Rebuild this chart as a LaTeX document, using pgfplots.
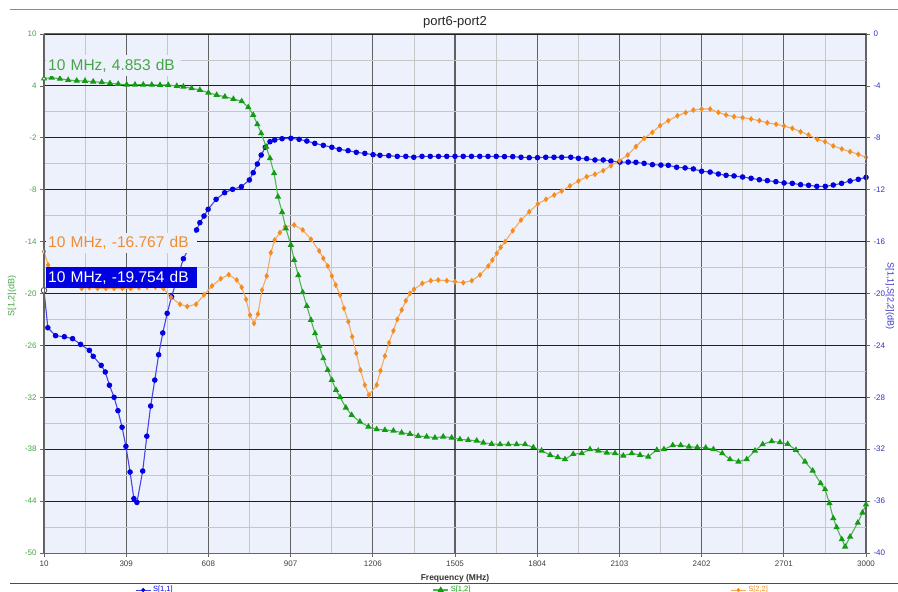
\documentclass[border=0pt]{standalone}
\usepackage{fontspec}
\setmainfont{Liberation Sans}
\usepackage{pgfplots}
\pgfplotsset{compat=1.18}
\definecolor{bgc}{RGB}{237,241,252}
\definecolor{cblue}{RGB}{0,0,225}
\definecolor{cbluel}{RGB}{70,70,230}
\definecolor{cgreen}{RGB}{20,155,20}
\definecolor{cgreenl}{RGB}{80,180,80}
\definecolor{corange}{RGB}{245,140,30}
\definecolor{corangel}{RGB}{245,170,100}
\definecolor{tgreen}{RGB}{70,165,70}
\definecolor{tblue}{RGB}{50,50,200}
\definecolor{torange}{RGB}{240,140,50}
\begin{document}
\begin{tikzpicture}[x=1bp,y=1bp]
\useasboundingbox (0,0) rectangle (898,-592);
\fill[white] (0,0) rectangle (898,-592);
\draw[black!45, line width=1bp] (10,-10) -- (898,-10);
\draw[black!70, line width=1bp] (10,-583) -- (898,-583);
\pgfplotsset{
  base/.style={at={(44bp,-553bp)}, anchor=south west, width=822bp, height=519bp,
    scale only axis, xmin=10, xmax=3000, ymin=-50, ymax=10,
    every tick label/.append style={font=\fontsize{8bp}{9bp}\selectfont}},
  xt/.style={xtick={10,309,608,907,1206,1505,1804,2103,2402,2701,3000}},
  lt/.style={ytick={-50,-44,-38,-32,-26,-20,-14,-8,-2,4,10}},
}
% vertical grid + background
\begin{axis}[base, xt, axis background/.style={fill=bgc},
  minor x tick num=1, ytick=\empty, xticklabels={},
  xmajorgrids, xminorgrids,
  major grid style={draw=black!62, line width=1.3bp},
  minor grid style={draw=black!22, line width=0.8bp},
  axis line style={draw=none}, tick style={draw=none}]
\addplot[draw=none] coordinates {(10,0)};
\end{axis}
% horizontal grid
\begin{axis}[base, lt, minor y tick num=1, xtick=\empty, yticklabels={},
  ymajorgrids, yminorgrids,
  major grid style={draw=black!88, line width=0.9bp},
  minor grid style={draw=black!22, line width=0.8bp},
  axis line style={draw=none}, tick style={draw=none}]
\addplot[draw=none] coordinates {(10,0)};
\end{axis}
% right axis: S11, S22
\begin{axis}[base, ymin=-40, ymax=0,
  axis x line=none, axis y line*=right,
  ytick={-40,-36,-32,-28,-24,-20,-16,-12,-8,-4,0},
  yticklabels={-40,-36,-32,-28,-24,-20,-16,-12,-8,-4,0},
  tick align=outside, major tick length=4bp,
  tick style={draw=black!60, line width=0.8bp},
  axis line style={draw=black!60, line width=1bp},
  yticklabel style={text=tblue}]
\addplot[cbluel, line width=1.1bp, mark=*, mark size=2.2bp, mark options={fill=cblue,draw=cblue}] coordinates {
(10,-19.754)(24,-22.64)(52,-23.25)(84,-23.33)(114,-23.48)(143,-23.92)(175,-24.38)(189,-24.84)(218,-25.54)(233,-26.05)(248,-27.07)(265,-28.0)(279,-29.03)(294,-30.31)(308,-31.78)(323,-33.76)(337,-35.81)(348,-36.1)(369,-33.68)(384,-31.0)(398,-28.67)(413,-26.67)(427,-24.72)(442,-23.04)(458,-21.53)(474,-20.25)(495,-18.8)(517,-17.32)(533,-16.65)(565,-15.1)(577,-14.54)(592,-14.03)(607,-13.51)(636,-12.74)(667,-12.23)(696,-11.97)(728,-11.77)(757,-11.25)(771,-10.69)(786,-10.02)(800,-9.33)(815,-8.73)(832,-8.3)(849,-8.17)(876,-8.07)(908,-8.04)(938,-8.12)(966,-8.25)(995,-8.43)(1026,-8.58)(1057,-8.73)(1084,-8.89)(1116,-8.99)(1146,-9.12)(1177,-9.2)(1207,-9.3)(1232,-9.35)(1264,-9.38)(1295,-9.43)(1326,-9.43)(1355,-9.5)(1385,-9.43)(1415,-9.43)(1445,-9.43)(1475,-9.43)(1505,-9.43)(1535,-9.43)(1565,-9.43)(1595,-9.43)(1625,-9.43)(1655,-9.43)(1685,-9.45)(1715,-9.45)(1745,-9.5)(1775,-9.53)(1805,-9.53)(1835,-9.5)(1865,-9.5)(1893,-9.5)(1926,-9.5)(1954,-9.58)(1984,-9.61)(2014,-9.71)(2044,-9.71)(2072,-9.79)(2105,-9.87)(2135,-9.87)(2163,-9.89)(2193,-9.97)(2223,-10.07)(2254,-10.1)(2281,-10.12)(2311,-10.27)(2342,-10.32)(2372,-10.4)(2402,-10.58)(2433,-10.64)(2463,-10.79)(2491,-10.89)(2520,-10.94)(2551,-11.02)(2582,-11.12)(2612,-11.23)(2641,-11.3)(2672,-11.38)(2702,-11.48)(2732,-11.51)(2762,-11.61)(2791,-11.66)(2821,-11.74)(2852,-11.74)(2881,-11.64)(2911,-11.51)(2942,-11.33)(2972,-11.2)(3000,-11.05)};
\addplot[corangel, line width=1.1bp, mark=diamond*, mark size=2.1bp, mark options={fill=corange,draw=corange}] coordinates {
(10,-16.767)(25,-17.8)(40,-18.5)(60,-19.0)(117,-19.35)(147,-19.6)(175,-19.55)(205,-19.6)(235,-19.6)(265,-19.6)(295,-19.6)(325,-19.6)(355,-19.55)(385,-19.5)(415,-19.5)(444,-19.6)(472,-20.3)(505,-20.83)(531,-21.0)(563,-20.83)(592,-20.1)(621,-19.42)(653,-18.86)(682,-18.55)(711,-18.96)(729,-19.52)(745,-20.45)(759,-21.66)(774,-22.3)(788,-21.58)(803,-19.73)(820,-18.65)(835,-16.86)(849,-15.88)(868,-15.31)(887,-14.85)(920,-14.72)(951,-15.1)(981,-15.82)(1011,-16.72)(1026,-17.29)(1042,-17.88)(1057,-18.65)(1071,-19.34)(1087,-20.12)(1101,-21.14)(1117,-22.17)(1131,-23.33)(1146,-24.61)(1161,-25.9)(1177,-27.05)(1192,-27.82)(1220,-27.05)(1234,-25.95)(1250,-24.82)(1265,-23.79)(1281,-22.87)(1295,-21.99)(1311,-21.27)(1326,-20.55)(1341,-19.99)(1356,-19.68)(1386,-19.22)(1417,-19.01)(1444,-18.96)(1475,-19.01)(1505,-19.09)(1535,-19.17)(1566,-19.01)(1596,-18.57)(1626,-17.88)(1641,-17.42)(1657,-16.9)(1671,-16.44)(1687,-16.01)(1715,-15.16)(1745,-14.34)(1775,-13.7)(1806,-13.1)(1836,-12.74)(1866,-12.41)(1893,-12.1)(1923,-11.71)(1954,-11.33)(1984,-11.0)(2014,-10.81)(2044,-10.53)(2072,-10.15)(2103,-9.76)(2133,-9.33)(2163,-8.68)(2193,-8.04)(2223,-7.58)(2251,-7.06)(2281,-6.68)(2314,-6.3)(2344,-6.06)(2372,-5.86)(2402,-5.78)(2433,-5.78)(2463,-6.04)(2491,-6.24)(2520,-6.37)(2551,-6.45)(2582,-6.55)(2612,-6.68)(2641,-6.84)(2673,-6.96)(2702,-7.09)(2732,-7.27)(2762,-7.53)(2791,-7.78)(2823,-8.12)(2851,-8.3)(2881,-8.63)(2912,-8.86)(2942,-9.07)(2972,-9.27)(3000,-9.5)};
\addplot[only marks, mark=*, mark size=1.8bp, mark options={fill=white, draw=black!50}] coordinates {(10,-16.767)};
\addplot[only marks, mark=*, mark size=2.8bp, mark options={fill=white, draw=black!70, line width=0.8bp}] coordinates {(10,-19.754)};
\end{axis}
% left axis: S12
\begin{axis}[base, xt, lt,
  yticklabels={-50,-44,-38,-32,-26,-20,-14,-8,-2,4,10},
  xticklabels={10,309,608,907,1206,1505,1804,2103,2402,2701,3000},
  xtick pos=left, ytick pos=left,
  tick align=outside, major tick length=4bp,
  tick style={draw=black!60, line width=0.8bp},
  axis line style={draw=black!60, line width=1bp},
  yticklabel style={text=tgreen}, xticklabel style={text=black!75},
  legend columns=3,
  legend style={at={(0.1107,-0.0713)}, anchor=west, draw=none, fill=none, inner sep=0pt,
    font=\fontsize{7.5bp}{9bp}\selectfont,
    /tikz/every even column/.append style={column sep=258bp}},
  legend image code/.code={\draw[mark repeat=2,mark phase=2,#1] plot coordinates {(0bp,0bp)(7.5bp,0bp)(15bp,0bp)};}]
\addlegendimage{cbluel, line width=0.9bp, mark=*, mark size=1.5bp, mark options={fill=cblue,draw=cblue}}
\addlegendentry[text=cblue]{S[1,1]}
\addplot[cgreenl, line width=1.1bp, mark=triangle*, mark size=2.6bp, mark options={fill=cgreen,draw=cgreen}] coordinates {
(10,4.853)(38,4.95)(68,4.83)(98,4.68)(129,4.6)(159,4.57)(189,4.49)(220,4.42)(250,4.3)(280,4.22)(311,4.14)(341,4.14)(371,4.14)(402,4.12)(432,4.1)(462,4.1)(493,3.99)(517,3.91)(547,3.72)(577,3.53)(608,3.21)(638,2.95)(668,2.75)(699,2.49)(729,2.22)(753,1.53)(771,0.64)(786,-0.44)(800,-1.48)(818,-3.03)(832,-4.37)(847,-6.1)(861,-8.81)(876,-10.6)(890,-12.5)(908,-14.39)(920,-16.13)(935,-17.9)(951,-19.86)(966,-21.45)(981,-23.06)(996,-24.61)(1011,-26.07)(1026,-27.5)(1042,-28.85)(1057,-30.0)(1072,-31.16)(1087,-32.0)(1108,-33.2)(1129,-34.05)(1159,-34.82)(1190,-35.4)(1220,-35.7)(1250,-35.78)(1281,-35.86)(1311,-36.09)(1341,-36.24)(1371,-36.47)(1402,-36.55)(1432,-36.67)(1462,-36.55)(1493,-36.67)(1523,-36.86)(1553,-36.94)(1584,-37.02)(1608,-37.25)(1638,-37.4)(1669,-37.44)(1699,-37.44)(1729,-37.44)(1760,-37.44)(1790,-37.79)(1820,-38.17)(1851,-38.67)(1879,-38.94)(1905,-39.17)(1935,-38.56)(1966,-38.48)(1996,-38.01)(2026,-38.17)(2057,-38.4)(2087,-38.48)(2117,-38.75)(2148,-38.48)(2178,-38.67)(2208,-38.87)(2239,-38.09)(2265,-38.01)(2297,-37.55)(2326,-37.55)(2356,-37.71)(2386,-37.79)(2417,-37.83)(2445,-38.01)(2477,-38.48)(2505,-39.17)(2536,-39.44)(2566,-39.17)(2596,-38.17)(2624,-37.44)(2657,-37.09)(2687,-37.21)(2715,-37.4)(2745,-38.09)(2778,-39.44)(2806,-40.48)(2835,-41.95)(2851,-42.64)(2867,-44.26)(2881,-45.99)(2893,-47.03)(2912,-48.42)(2924,-49.27)(2942,-48.12)(2970,-46.5)(2987,-45.34)(3000,-44.4)};
\addlegendentry[text=cgreen]{S[1,2]}
\addlegendimage{corangel, line width=0.9bp, mark=diamond*, mark size=1.5bp, mark options={fill=corange,draw=corange}}
\addlegendentry[text=corange]{S[2,2]}
\addplot[forget plot, only marks, mark=triangle*, mark size=2bp, mark options={fill=white, draw=black!70}] coordinates {(10,4.853)};
\end{axis}
% annotations
\node[anchor=west, fill=bgc, inner xsep=2bp, inner ysep=0pt, minimum height=21bp, text width=131bp, align=left, text=tgreen,
  font=\fontsize{15.5bp}{17bp}\selectfont] at (46,-66) {10 MHz, 4.853 dB};
\node[anchor=west, fill=bgc, inner xsep=2bp, inner ysep=0pt, minimum height=20bp, text width=147bp, align=left, text=torange,
  font=\fontsize{15.5bp}{17bp}\selectfont] at (46,-243) {10 MHz, -16.767 dB};
\node[anchor=west, fill=cblue, inner xsep=2bp, inner ysep=0pt, minimum height=21bp, text width=147bp, align=left, text=white,
  font=\fontsize{15.5bp}{17bp}\selectfont] at (46,-277.5) {10 MHz, -19.754 dB};
% titles and labels
\node[font=\fontsize{13bp}{15bp}\selectfont, text=black!85] at (455,-22) {port6-port2};
\node[font=\bfseries\fontsize{8.5bp}{10bp}\selectfont, text=black!80] at (455,-578) {Frequency (MHz)};
\node[rotate=90, font=\fontsize{9bp}{10bp}\selectfont, text=tgreen] at (12,-296) {S[1,2](dB)};
\node[rotate=-90, font=\fontsize{9bp}{10bp}\selectfont, text=tblue] at (890,-296) {S[1,1],S[2,2](dB)};
\end{tikzpicture}
\end{document}
